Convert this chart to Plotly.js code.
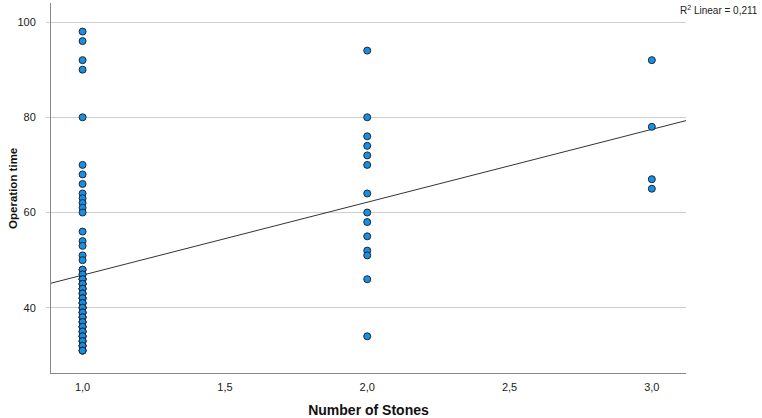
<!DOCTYPE html>
<html>
<head>
<meta charset="utf-8">
<script src="https://cdn.plot.ly/plotly-3.0.1.min.js"></script>
<style>html,body{margin:0;padding:0;background:#fff;}#chart{width:762px;height:418px;}</style>
</head>
<body>
<div id="chart"></div>
<script>
// Operation time by number of stones
const stonesOne = 1;
const stonesTwo = 2;
const stonesThree = 3;
const timesOneStone = [98, 96, 92, 90, 80, 70, 68, 66, 64, 63, 62, 61, 60, 56, 54, 53, 51, 50,
  48, 48, 47, 47, 46, 46, 46, 45, 45, 45, 44, 44, 44, 43, 43, 43, 42, 42, 42, 41, 41, 41,
  40, 40, 40, 39, 39, 39, 38, 38, 38, 37, 37, 37, 36, 36, 36, 35, 35, 35, 34, 34, 34,
  33, 33, 33, 32, 32, 32, 31, 31, 31];
const timesTwoStones = [94, 80, 76, 74, 72, 70, 64, 60, 58, 55, 52, 51, 46, 34];
const timesThreeStones = [92, 78, 67, 65];
const xTickVals = [1.0, 1.5, 2.0, 2.5, 3.0];
const yTickVals = [40, 60, 80, 100];
const xTitle = 'Number of Stones';
const yTitle = 'Operation time';
const r2Label = 'R<sup>2</sup> Linear = 0,211';

const xs = [], ys = [];
[[stonesOne, timesOneStone], [stonesTwo, timesTwoStones], [stonesThree, timesThreeStones]].forEach(([s, arr]) => {
  arr.forEach(v => { xs.push(s); ys.push(v); });
});

// least-squares linear fit
const n = xs.length;
const mx = xs.reduce((a, b) => a + b, 0) / n;
const my = ys.reduce((a, b) => a + b, 0) / n;
let sxy = 0, sxx = 0;
for (let i = 0; i < n; i++) { sxy += (xs[i] - mx) * (ys[i] - my); sxx += (xs[i] - mx) ** 2; }
const slope = sxy / sxx;
const intercept = my - slope * mx;
const xRange = [0.889, 3.12];
const fitX = xRange.slice();
const fitY = fitX.map(x => intercept + slope * x);

const font = 'Liberation Sans, Arial, sans-serif';

const traces = [
  {
    type: 'scatter', mode: 'lines', x: fitX, y: fitY,
    line: { color: '#333333', width: 1 }, hoverinfo: 'skip', showlegend: false
  },
  {
    type: 'scatter', mode: 'markers', x: xs, y: ys,
    marker: { size: 7, color: '#1a8ee0', line: { color: '#1b2a3a', width: 1 } },
    showlegend: false
  }
];

const layout = {
  width: 762, height: 418,
  margin: { l: 51, r: 76, t: 3, b: 45 },
  paper_bgcolor: '#ffffff', plot_bgcolor: '#ffffff',
  separators: ',.',
  font: { family: font, size: 11, color: '#222222' },
  xaxis: {
    range: xRange, tickvals: xTickVals, tickformat: '.1f',
    showgrid: false, zeroline: false,
    showline: true, linecolor: '#888888', linewidth: 1,
    ticks: '', ticklabelstandoff: 4,
    tickfont: { family: font, size: 11, color: '#222222' },
    title: { text: xTitle, font: { family: font, size: 14, weight: 'bold', color: '#111111' }, standoff: 12 }
  },
  yaxis: {
    range: [26.3, 104], tickvals: yTickVals,
    showgrid: true, gridcolor: '#cfcfcf', gridwidth: 1, zeroline: false,
    showline: true, linecolor: '#888888', linewidth: 1,
    ticks: 'outside', ticklen: 4, tickcolor: '#cfcfcf',
    ticklabelstandoff: 8,
    tickfont: { family: font, size: 11, color: '#222222' }
  },
  annotations: [
    {
      xref: 'paper', yref: 'paper', x: 0.989, y: 1.0, xanchor: 'left', yanchor: 'top',
      text: r2Label, showarrow: false, borderpad: 0,
      font: { family: font, size: 10, color: '#222222' }
    },
    {
      xref: 'paper', yref: 'paper', x: -0.06, y: 0.5, xanchor: 'center', yanchor: 'middle',
      textangle: -90, text: yTitle, showarrow: false, borderpad: 0,
      font: { family: font, size: 11.5, weight: 'bold', color: '#111111' }
    }
  ]
};

Plotly.newPlot('chart', traces, layout, { displayModeBar: false, staticPlot: true });
</script>
</body>
</html>
